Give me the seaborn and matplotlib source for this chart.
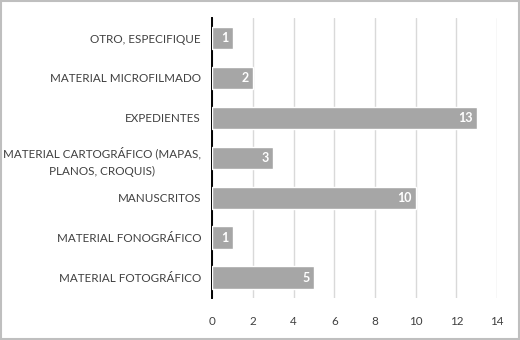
import matplotlib
matplotlib.use("Agg")
import matplotlib.pyplot as plt
import pandas as pd
import seaborn as sns
from matplotlib.patches import Rectangle

# Data (top to bottom as shown)
categories = [
    "OTRO, ESPECIFIQUE",
    "MATERIAL MICROFILMADO",
    "EXPEDIENTES",
    "MATERIAL CARTOGRÁFICO (MAPAS,\nPLANOS, CROQUIS)",
    "MANUSCRITOS",
    "MATERIAL FONOGRÁFICO",
    "MATERIAL FOTOGRÁFICO",
]
values = [1, 2, 13, 3, 10, 1, 5]
x_ticks = [0, 2, 4, 6, 8, 10, 12, 14]

df = pd.DataFrame({"categoria": categories, "valor": values})

sns.set_theme(style="white")
plt.rcParams["font.family"] = ["Lato", "DejaVu Sans"]

fig = plt.figure(figsize=(5.2, 3.4), dpi=100)
ax = fig.add_axes([0.408, 0.124, 0.548, 0.823])

sns.barplot(data=df, y="categoria", x="valor", orient="h",
            color="#a6a6a6", saturation=1, width=0.57, ax=ax, zorder=3)

ax.set_xlim(0, 14)
ax.set_xticks(x_ticks)
ax.set_xlabel("")
ax.set_ylabel("")
ax.grid(axis="x", color="#d9d9d9", linewidth=1, zorder=0)
ax.set_axisbelow(True)

for s in ["top", "right", "bottom"]:
    ax.spines[s].set_visible(False)
ax.spines["left"].set_color("#000000")
ax.spines["left"].set_linewidth(1.4)

ax.tick_params(axis="both", length=0, labelsize=8.4, colors="#404040")
ax.tick_params(axis="y", pad=8)
ax.tick_params(axis="x", pad=13)
ax.set_yticks(range(len(categories)))
ax.set_yticklabels(categories, linespacing=1.7, multialignment="center")

for i, v in enumerate(values):
    ax.text(v - 0.2, i, str(v), ha="right", va="center",
            color="white", fontsize=9, fontweight="bold", zorder=4)

# light frame around the whole picture
fig.patches.append(Rectangle((0.002, 0.003), 0.996, 0.994,
                             transform=fig.transFigure, fill=False,
                             edgecolor="#bfbfbf", linewidth=1.5))

fig.savefig("out.png", dpi=100)
